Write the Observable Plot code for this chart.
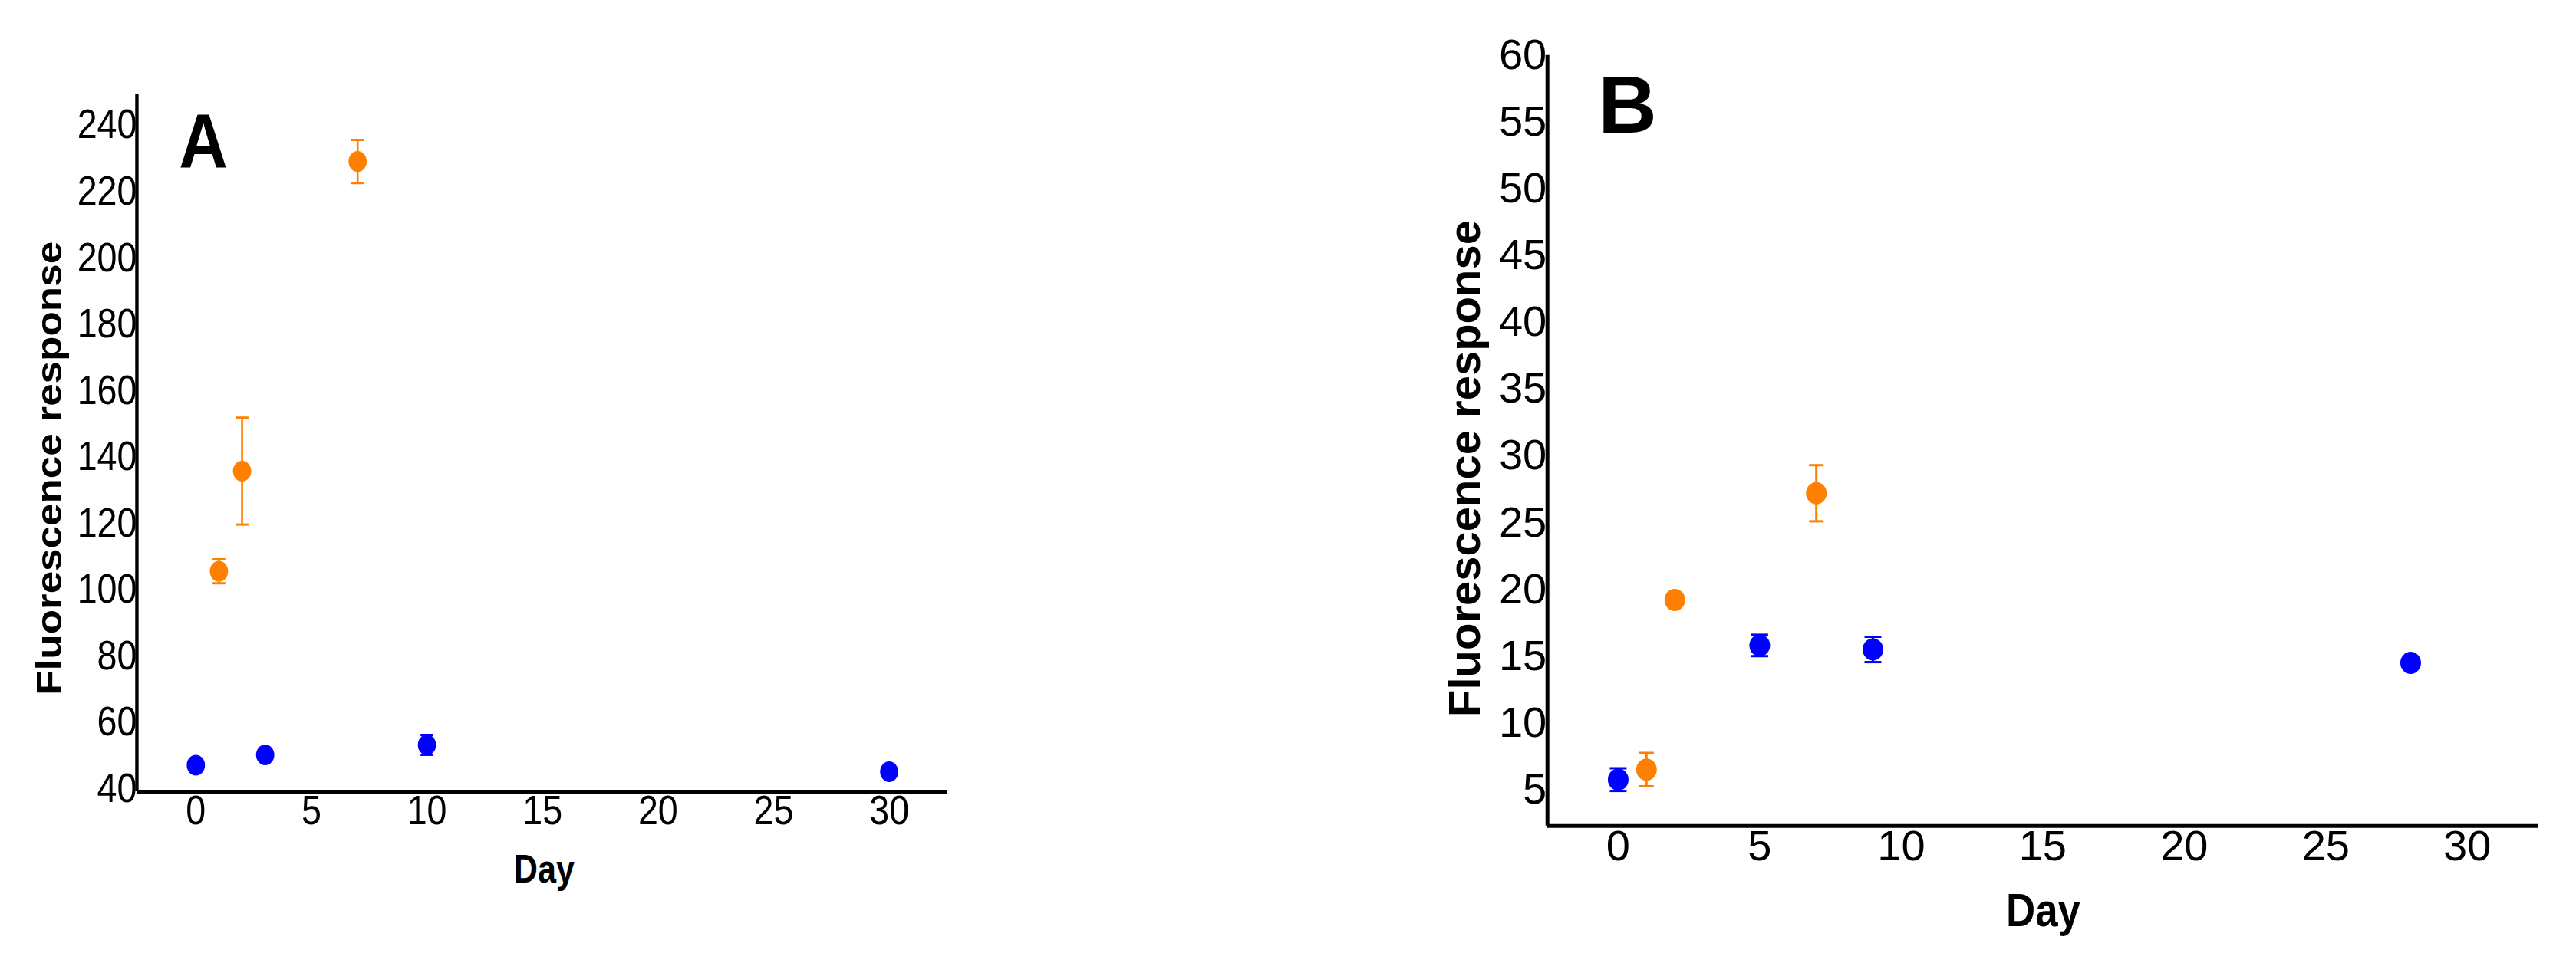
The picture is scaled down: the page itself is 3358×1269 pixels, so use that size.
<!DOCTYPE html>
<html>
<head>
<meta charset="utf-8">
<script src="https://cdn.jsdelivr.net/npm/d3@7"></script>
<script src="https://cdn.jsdelivr.net/npm/@observablehq/plot@0.6"></script>
<style>
  html, body { margin: 0; padding: 0; background: #fff; }
  #page { position: relative; width: 3358px; height: 1269px; background: #fff; overflow: hidden; }
  #page svg { position: absolute; top: 0; }
  #panelA { left: 0; transform: scaleX(0.88); transform-origin: 0 0; }
  #panelB { left: 1850px; }
</style>
</head>
<body>
<div id="page"></div>
<script>
// ---- data ----
const seriesNames = ["Blue series", "Orange series"];
const seriesColors = ["#0000ff", "#ff8000"];

// Panel A
const daysA_blue = [0, 3, 10, 30];
const meanA_blue = [47.2, 50.3, 53.3, 45.2];
const errA_blue = [0.8, 1.0, 3.0, 0.8];
const daysA_orange = [1, 2, 7];
const meanA_orange = [105.6, 135.8, 229.1];
const errA_orange = [3.6, 16.1, 6.5];

// Panel B
const daysB_blue = [0, 5, 9, 28];
const meanB_blue = [5.75, 15.8, 15.5, 14.5];
const errB_blue = [0.85, 0.8, 0.95, 0.3];
const daysB_orange = [1, 2, 7];
const meanB_orange = [6.5, 19.2, 27.2];
const errB_orange = [1.25, 0.3, 2.1];

// ticks & domains
const xTicks = [0, 5, 10, 15, 20, 25, 30];
const yTicksA = [40, 60, 80, 100, 120, 140, 160, 180, 200, 220, 240];
const yTicksB = [5, 10, 15, 20, 25, 30, 35, 40, 45, 50, 55, 60];
const xDomainA = [-2.55, 32.5];
const yDomainA = [39.2, 249.3];
const xDomainB = [-2.5, 32.5];
const yDomainB = [2.28, 60];

const yLabel = "Fluorescence response";
const xLabel = "Day";

function rows(days, means, errs) {
  return days.map((d, i) => ({day: d, mean: means[i], err: errs[i]}));
}

// custom symbols
function ellipseSymbol(ax, ay) {
  return {
    draw(ctx, size) {
      const r = Math.sqrt(size / Math.PI);
      const rx = r * ax, ry = r * ay, k = 0.5523;
      ctx.moveTo(rx, 0);
      ctx.bezierCurveTo(rx, ry * k, rx * k, ry, 0, ry);
      ctx.bezierCurveTo(-rx * k, ry, -rx, ry * k, -rx, 0);
      ctx.bezierCurveTo(-rx, -ry * k, -rx * k, -ry, 0, -ry);
      ctx.bezierCurveTo(rx * k, -ry, rx, -ry * k, rx, 0);
      ctx.closePath();
    }
  };
}
const capSymbol = {
  draw(ctx, size) {
    const r = Math.sqrt(size / Math.PI);
    ctx.moveTo(-r, 0);
    ctx.lineTo(r, 0);
  }
};

function seriesMarks(data, color, dotOpts, capR) {
  return [
    Plot.ruleX(data, {x: "day", y1: d => d.mean - d.err, y2: d => d.mean + d.err, stroke: color, strokeWidth: 3}),
    Plot.dot(data, {x: "day", y: d => d.mean + d.err, symbol: capSymbol, r: capR, stroke: color, strokeWidth: 3, fill: "none"}),
    Plot.dot(data, {x: "day", y: d => d.mean - d.err, symbol: capSymbol, r: capR, stroke: color, strokeWidth: 3, fill: "none"}),
    Plot.dot(data, {x: "day", y: "mean", fill: color, stroke: "none", ...dotOpts})
  ];
}

const font = "'Liberation Sans', Arial, Helvetica, sans-serif";

// ---- Panel A ----
const plotA = Plot.plot({
  width: 1477, height: 1269,
  marginLeft: 202.3, marginRight: 74.7, marginTop: 122.7, marginBottom: 237,
  style: {fontFamily: font, fontSize: "53px", background: "transparent", overflow: "visible", color: "black"},
  x: {domain: xDomainA},
  y: {domain: yDomainA},
  marks: [
    Plot.axisX({ticks: xTicks, tickSize: 0, tickPadding: 5, label: null}),
    Plot.axisY({ticks: yTicksA, tickSize: 0, tickPadding: 0, label: null}),
    Plot.ruleY([yDomainA[0]], {stroke: "black", strokeWidth: 5}),
    Plot.ruleX([xDomainA[0]], {stroke: "black", strokeWidth: 5}),
    ...seriesMarks(rows(daysA_orange, meanA_orange, errA_orange), seriesColors[1], {r: 13.5}, 9.5),
    ...seriesMarks(rows(daysA_blue, meanA_blue, errA_blue), seriesColors[0], {r: 13.5}, 9.5),
    Plot.text([yLabel], {text: d => d, frameAnchor: "left", rotate: -90, dx: -129, dy: 33,
      fontSize: 53, fontWeight: "bold", textAnchor: "middle", lineAnchor: "middle", fill: "black"}),
    Plot.text([xLabel], {text: d => d, frameAnchor: "bottom", dx: 3.4, dy: 102,
      fontSize: 52, fontWeight: "bold", textAnchor: "middle", lineAnchor: "middle", fill: "black"}),
    Plot.text(["A"], {text: d => d, frameAnchor: "top-left", dx: 98.3, dy: 64,
      fontSize: 100, fontWeight: "bold", textAnchor: "middle", lineAnchor: "middle", fill: "black"})
  ]
});
plotA.id = "panelA";

// ---- Panel B ----
const plotB = Plot.plot({
  width: 1508, height: 1269,
  marginLeft: 166.7, marginRight: 50, marginTop: 71.7, marginBottom: 192.3,
  style: {fontFamily: font, fontSize: "56px", background: "transparent", overflow: "visible", color: "black"},
  x: {domain: xDomainB},
  y: {domain: yDomainB},
  marks: [
    Plot.axisX({ticks: xTicks, tickSize: 0, tickPadding: 5, label: null}),
    Plot.axisY({ticks: yTicksB, tickSize: 0, tickPadding: 1, label: null}),
    Plot.ruleY([yDomainB[0]], {stroke: "black", strokeWidth: 5}),
    Plot.ruleX([xDomainB[0]], {stroke: "black", strokeWidth: 5}),
    ...seriesMarks(rows(daysB_orange, meanB_orange, errB_orange), seriesColors[1], {r: 14, symbol: ellipseSymbol(13.5 / 14, 14.5 / 14)}, 9.5),
    ...seriesMarks(rows(daysB_blue, meanB_blue, errB_blue), seriesColors[0], {r: 14, symbol: ellipseSymbol(13.5 / 14, 14.5 / 14)}, 11),
    Plot.text([yLabel], {text: d => d, frameAnchor: "left", rotate: -90, dx: -106.7, dy: 36.3,
      fontSize: 58, fontWeight: "bold", textAnchor: "middle", lineAnchor: "middle", fill: "black"}),
    Plot.text([xLabel], {text: d => d, frameAnchor: "bottom", dx: 0.6, dy: 110.8,
      fontSize: 62, fontWeight: "bold", textAnchor: "middle", lineAnchor: "middle", fill: "black"}),
    Plot.text(["B"], {text: d => d, frameAnchor: "top-left", dx: 104.3, dy: 67.3,
      fontSize: 106, fontWeight: "bold", textAnchor: "middle", lineAnchor: "middle", fill: "black"})
  ]
});
plotB.id = "panelB";

// condense the "Day" titles to the reference's narrow bold width
function condense(svg, label, len) {
  svg.querySelectorAll("text").forEach(t => {
    if (t.textContent === label) {
      t.setAttribute("textLength", len);
      t.setAttribute("lengthAdjust", "spacingAndGlyphs");
    }
  });
}
condense(plotA, xLabel, 90);
condense(plotB, xLabel, 97);

const page = document.getElementById("page");
page.appendChild(plotA);
page.appendChild(plotB);
</script>
</body>
</html>
